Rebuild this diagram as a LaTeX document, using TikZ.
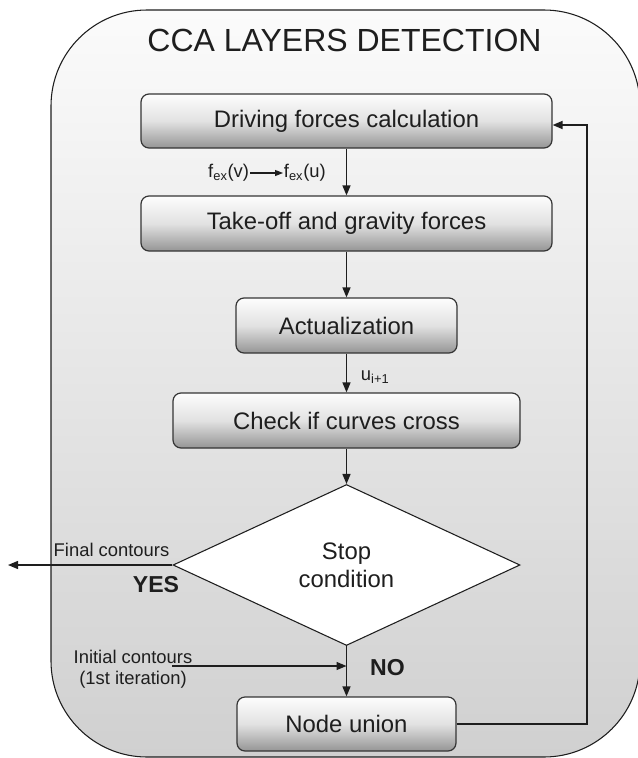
\documentclass[tikz,border=0pt]{standalone}
\usepackage{fontspec}
\setmainfont{Liberation Sans}
\usetikzlibrary{shapes.geometric,arrows.meta,calc}
\definecolor{panelTop}{HTML}{FBFBFB}
\definecolor{panelBottom}{HTML}{D0D0D0}
\definecolor{boxTop}{HTML}{FDFDFD}
\definecolor{boxMid}{HTML}{E2E2E2}
\definecolor{boxBottom}{HTML}{959595}
\definecolor{ink}{HTML}{1E1E1E}
\begin{document}
\begin{tikzpicture}[x=0.75pt,y=-0.75pt,
  stepbox/.style={draw=ink!90, line width=0.9pt, rounded corners=6pt,
    top color=boxTop, bottom color=boxBottom, middle color=boxMid,
    inner sep=0pt, text=ink, font=\fontsize{17.9}{21}\selectfont},
  decision/.style={diamond, aspect=2, draw=ink, line width=0.8pt, fill=white,
    inner sep=0pt, minimum width=260.25pt, minimum height=120.75pt,
    align=center, text=ink, font=\fontsize{17.9}{21}\selectfont},
  lbl/.style={inner sep=0.5pt, text=ink, font=\fontsize{13.8}{15.75}\selectfont},
  yesno/.style={inner sep=0pt, text=ink, font=\fontsize{17.3}{20}\selectfont\bfseries},
  arr/.style={draw=ink, line width=1pt, -{Triangle[length=7.5pt,width=6pt]}},
  smallarr/.style={draw=ink, line width=0.8pt, -{Triangle[length=6pt,width=4.5pt]}}
]
\useasboundingbox (0,0) rectangle (638,758);

% outer panel
\draw[ink, line width=0.8pt, rounded corners=72pt, top color=panelTop, bottom color=panelBottom]
  (51,10) rectangle (640,757);

\node[inner sep=0pt, text=ink, font=\fontsize{24}{28}\selectfont] (title) at (344.5,40) {CCA LAYERS DETECTION};

% process steps
\node[stepbox, minimum width=308.25pt, minimum height=40.5pt] (drive) at (346.5,121) {Driving forces calculation};
\node[stepbox, minimum width=308.25pt, minimum height=41.25pt] (takeoff) at (346.5,223.5) {Take-off and gravity forces};
\node[stepbox, minimum width=165.75pt, minimum height=41.25pt] (actual) at (346.5,325.5) {Actualization};
\node[stepbox, minimum width=260.25pt, minimum height=41.25pt] (check) at (346.5,420.5) {Check if curves cross};
\node[decision] (stop) at (346.5,565) {Stop\\condition};
\node[stepbox, minimum width=164.25pt, minimum height=40.5pt] (union) at (346.5,724) {Node union};

% main flow
\draw[arr] (drive) -- (takeoff);
\draw[arr] (takeoff) -- (actual);
\draw[arr] (actual) -- (check);
\draw[arr] (check) -- (stop);
\draw[arr] (stop) -- (union);

% feedback loop
\coordinate (loop) at (587,125);
\draw[arr, line width=1.3pt] (union.east) -| (loop) -- (loop -| drive.east);

% force label
\node[lbl, anchor=east] (fv) at (250,173) {f\textsubscript{ex}(v)};
\node[lbl, anchor=west] (fu) at (283,173) {f\textsubscript{ex}(u)};
\draw[smallarr] (fv.east) -- (fu.west);

\node[lbl, anchor=west] (ulab) at (360,377) {u\textsubscript{i+1}};

% exit branch
\coordinate (out) at (8,565);
\draw[arr] (stop.west) -- (out);
\node[lbl] (finlab) at (111.5,550) {Final contours};
\node[yesno] (yes) at (156,585) {YES};

% entry for the first iteration
\node[lbl, align=center] (initlab) at (133,669) {Initial contours\\(1st iteration)};
\coordinate (in) at (172,666);
\draw[arr] (in) -- (in -| stop.south);
\node[yesno] (no) at (387.5,668) {NO};
\end{tikzpicture}
\end{document}
